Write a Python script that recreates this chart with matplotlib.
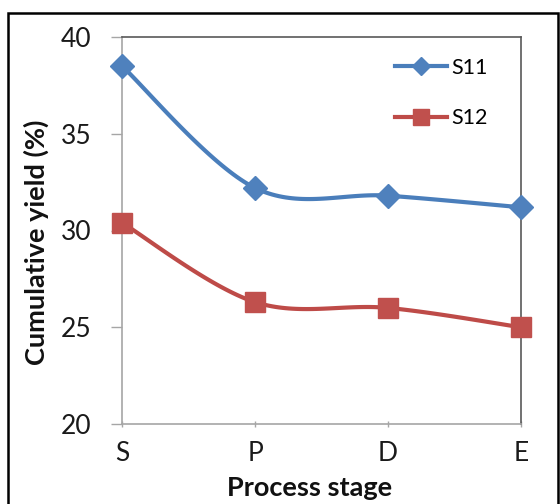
import numpy as np
import matplotlib
matplotlib.use("Agg")
import matplotlib.pyplot as plt
from matplotlib.patches import Rectangle

stages = ["S", "P", "D", "E"]
s11 = [38.5, 32.2, 31.8, 31.2]
s12 = [30.4, 26.3, 26.0, 25.0]
yticks = [20, 25, 30, 35, 40]

plt.rcParams['font.family'] = ['Lato', 'DejaVu Sans']

W, H = 560, 504
fig = plt.figure(figsize=(W / 100, H / 100), dpi=100)
ax = fig.add_axes([122 / W, 1 - 424 / H, (521 - 122) / W, (424 - 37) / H])


def smooth(xs, ys, n=40):
    xs = np.asarray(xs, float)
    ys = np.asarray(ys, float)
    px = np.concatenate([[xs[0]], xs, [xs[-1]]])
    py = np.concatenate([[ys[0]], ys, [ys[-1]]])
    out_x, out_y = [], []
    t = np.linspace(0, 1, n)
    for i in range(1, len(px) - 2):
        p0 = np.array([px[i], py[i]])
        p3 = np.array([px[i + 1], py[i + 1]])
        p1 = p0 + (np.array([px[i + 1], py[i + 1]]) - np.array([px[i - 1], py[i - 1]])) / 6
        p2 = p3 - (np.array([px[i + 2], py[i + 2]]) - np.array([px[i], py[i]])) / 6
        b = ((1 - t) ** 3)[:, None] * p0 + (3 * (1 - t) ** 2 * t)[:, None] * p1 \
            + (3 * (1 - t) * t ** 2)[:, None] * p2 + (t ** 3)[:, None] * p3
        out_x.extend(b[:, 0])
        out_y.extend(b[:, 1])
    return out_x, out_y


x = np.arange(len(stages))
blue_line, blue_mk = "#4A7EBB", "#4F81BD"
red_line, red_mk = "#BE4B48", "#C0504D"

sx, sy = smooth(x, s11)
ax.plot(sx, sy, color=blue_line, lw=3, solid_capstyle='round', zorder=3, clip_on=False)
ax.plot(x, s11, linestyle='none', marker='D', ms=12.5, color=blue_mk, zorder=4, clip_on=False)
sx, sy = smooth(x, s12)
ax.plot(sx, sy, color=red_line, lw=3, solid_capstyle='round', zorder=3, clip_on=False)
ax.plot(x, s12, linestyle='none', marker='s', ms=14, color=red_mk, zorder=4, clip_on=False)

# legend proxies
h1, = ax.plot([], [], color=blue_line, lw=3, marker='D', ms=9.5, markerfacecolor=blue_mk, markeredgecolor=blue_mk)
h2, = ax.plot([], [], color=red_line, lw=3, marker='s', ms=12, markerfacecolor=red_mk, markeredgecolor=red_mk)
ax.legend([h1, h2], ["S11", "S12"], loc='upper left',
          bbox_to_anchor=(395 / W, 1 - 58 / H), bbox_transform=fig.transFigure,
          frameon=False, fontsize=15.5, handlelength=2.4, handletextpad=0.2,
          labelspacing=1.4, borderpad=0, borderaxespad=0)

ax.set_xlim(0, len(stages) - 1)
ax.set_ylim(20, 40)
ax.set_xticks(x)
ax.set_xticklabels(stages)
ax.set_yticks(yticks)
ax.set_yticklabels([str(v) for v in yticks])

ax.tick_params(axis='y', direction='out', length=8, width=1, color='#A6A6A6',
               labelsize=19, pad=14, labelcolor='#1a1a1a')
ax.tick_params(axis='x', direction='inout', length=5, width=1, color='#A6A6A6',
               labelsize=19, pad=10, labelcolor='#1a1a1a')

for side in ['left', 'bottom']:
    ax.spines[side].set_color('#A6A6A6')
    ax.spines[side].set_linewidth(1.2)
for side in ['top', 'right']:
    ax.spines[side].set_color('#595959')
    ax.spines[side].set_linewidth(1.2)

fig.text(310 / W, 1 - 488 / H, "Process stage", ha='center', va='center',
         fontsize=19.5, fontweight='bold', color='#111111')
fig.text(36 / W, 1 - 242 / H, "Cumulative yield (%)", ha='center', va='center',
         rotation=90, fontsize=19.5, fontweight='bold', color='#111111')

fig.patches.append(Rectangle((8 / W, -0.05), (558 - 8) / W, 1.05 - 13 / H,
                             transform=fig.transFigure, fill=False,
                             edgecolor='black', linewidth=1.8, clip_on=False))

fig.savefig("out.png", dpi=100)
